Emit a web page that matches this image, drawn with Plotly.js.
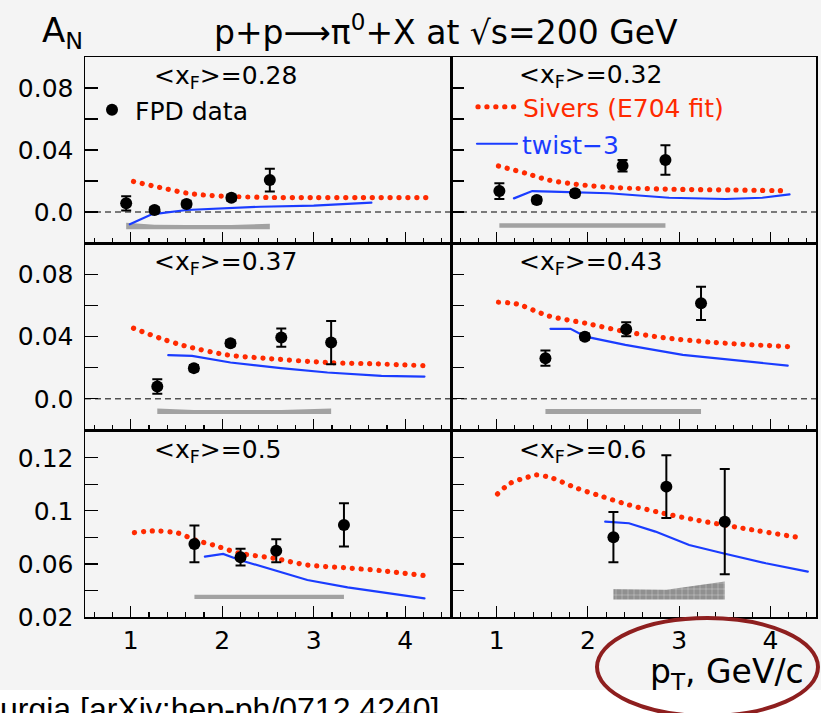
<!DOCTYPE html>
<html><head><meta charset="utf-8">
<script src="https://cdn.plot.ly/plotly-3.0.1.min.js"></script>
<style>
html,body{margin:0;padding:0;background:#f4f4f4;overflow:hidden;}
#chart{width:821px;height:713px;}
.js-line{stroke-linecap:round;}
</style></head><body><div id="chart"></div>
<script>
// ===== DATA =====
const xfLabels = ["0.28", "0.32", "0.37", "0.43", "0.5", "0.6"];
const xTickVals = [1, 2, 3, 4];
const xTickText = ["1", "2", "3", "4"];
const yTickValsTop = [0, 0.04, 0.08];
const yTickTextTop = ["0.0", "0.04", "0.08"];
const yMinorTop = [0.02, 0.06];
const yTickValsBot = [0.02, 0.06, 0.10, 0.14];
const yTickTextBot = ["0.02", "0.06", "0.1", "0.12"];
const yMinorBot = [0.04, 0.08, 0.12];

// panel 1 <xF>=0.28
const p1_pT  = [0.95, 1.26, 1.61, 2.10, 2.52];
const p1_AN  = [0.0056, 0.0013, 0.0052, 0.0092, 0.0206];
const p1_err = [0.0046, 0.002, 0.002, 0.002, 0.0073];
const p1_sivX = [1.03, 1.32, 1.61, 1.79, 2.10, 2.50, 3.00, 3.50, 4.25];
const p1_sivY = [0.0197, 0.0158, 0.0122, 0.0110, 0.0100, 0.0094, 0.0093, 0.0093, 0.0093];
const p1_twX = [0.99, 1.23, 1.61, 2.01, 2.42, 3.00, 3.63];
const p1_twY = [-0.0079, -0.0015, 0.0013, 0.0024, 0.0034, 0.0041, 0.0060];
const p1_sysX = [0.95, 1.26, 1.61, 2.10, 2.52];
const p1_sysLo = [-0.0112, -0.0112, -0.0112, -0.0112, -0.0112];
const p1_sysHi = [-0.0070, -0.0082, -0.0084, -0.0084, -0.0076];

// panel 2 <xF>=0.32
const p2_pT  = [1.03, 1.44, 1.86, 2.38, 2.85];
const p2_AN  = [0.0135, 0.0077, 0.0121, 0.0298, 0.0335];
const p2_err = [0.0051, 0.002, 0.002, 0.0037, 0.0095];
const p2_sivX = [1.02, 1.32, 1.57, 1.87, 2.30, 3.03, 3.60, 4.21];
const p2_sivY = [0.0297, 0.0250, 0.0206, 0.0179, 0.0157, 0.0146, 0.0142, 0.0137];
const p2_twX = [1.19, 1.39, 1.60, 1.90, 2.23, 2.89, 3.51, 3.91, 4.21];
const p2_twY = [0.0088, 0.0135, 0.0131, 0.0127, 0.0121, 0.0092, 0.0084, 0.0092, 0.0114];
const p2_sysX = [1.03, 1.44, 1.86, 2.38, 2.85];
const p2_sysLo = [-0.0102, -0.0102, -0.0102, -0.0102, -0.0102];
const p2_sysHi = [-0.0073, -0.0073, -0.0073, -0.0073, -0.0073];

// panel 3 <xF>=0.37
const p3_pT  = [1.29, 1.69, 2.09, 2.645, 3.19];
const p3_AN  = [0.0079, 0.0197, 0.0357, 0.0393, 0.0361];
const p3_err = [0.0047, 0.002, 0.002, 0.0058, 0.0139];
const p3_sivX = [1.03, 1.32, 1.59, 2.05, 2.45, 3.15, 3.70, 4.21];
const p3_sivY = [0.0453, 0.0389, 0.0340, 0.0282, 0.0261, 0.0233, 0.0224, 0.0213];
const p3_twX = [1.41, 1.67, 2.09, 2.64, 3.15, 3.74, 4.21];
const p3_twY = [0.0280, 0.0276, 0.0233, 0.0197, 0.0169, 0.0147, 0.0143];
const p3_sysX = [1.29, 1.69, 2.09, 2.645, 3.19];
const p3_sysLo = [-0.0098, -0.0098, -0.0098, -0.0098, -0.0098];
const p3_sysHi = [-0.0062, -0.0072, -0.0072, -0.0072, -0.0062];

// panel 4 <xF>=0.43
const p4_pT  = [1.535, 1.967, 2.42, 3.24];
const p4_AN  = [0.0261, 0.0399, 0.0447, 0.0613];
const p4_err = [0.0049, 0.002, 0.0045, 0.0107];
const p4_sivX = [1.02, 1.22, 1.57, 1.975, 2.41, 2.82, 3.40, 4.19];
const p4_sivY = [0.0620, 0.0609, 0.0532, 0.0485, 0.0431, 0.0393, 0.0361, 0.0335];
const p4_twX = [1.59, 1.81, 1.975, 2.41, 3.04, 3.77, 4.19];
const p4_twY = [0.0449, 0.0449, 0.0399, 0.0346, 0.0282, 0.0239, 0.0213];
const p4_sysX = [1.535, 1.967, 2.42, 3.24];
const p4_sysLo = [-0.0098, -0.0098, -0.0098, -0.0098];
const p4_sysHi = [-0.0066, -0.0066, -0.0066, -0.0066];

// panel 5 <xF>=0.5
const p5_pT  = [1.696, 2.20, 2.59, 3.33];
const p5_AN  = [0.0751, 0.0651, 0.0700, 0.0894];
const p5_err = [0.0138, 0.0063, 0.0087, 0.0163];
const p5_sivX = [1.04, 1.24, 1.52, 1.70, 1.90, 2.19, 2.56, 2.93, 3.33, 3.74, 4.21];
const p5_sivY = [0.0836, 0.0849, 0.0832, 0.0781, 0.0743, 0.0681, 0.0643, 0.0592, 0.0572, 0.0549, 0.0512];
const p5_twX = [1.81, 2.01, 2.19, 2.49, 2.93, 3.37, 3.81, 4.21];
const p5_twY = [0.0655, 0.0675, 0.0630, 0.0568, 0.0479, 0.0424, 0.0379, 0.0341];
const p5_sysX = [1.696, 2.20, 2.59, 3.33];
const p5_sysLo = [0.0335, 0.0335, 0.0335, 0.0335];
const p5_sysHi = [0.0367, 0.0367, 0.0367, 0.0367];

// panel 6 <xF>=0.6
const p6_pT  = [2.28, 2.86, 3.50];
const p6_AN  = [0.0802, 0.1183, 0.0919];
const p6_err = [0.0190, 0.0237, 0.0396];
const p6_sivX = [1.01, 1.15, 1.34, 1.43, 1.61, 1.88, 2.16, 2.45, 2.82, 3.18, 3.70, 4.36];
const p6_sivY = [0.1128, 0.1209, 0.1254, 0.1272, 0.1247, 0.1171, 0.1108, 0.1045, 0.0983, 0.0932, 0.0869, 0.0794];
const p6_twX = [2.19, 2.45, 2.74, 3.11, 3.48, 3.95, 4.41];
const p6_twY = [0.0919, 0.0907, 0.0844, 0.0743, 0.0681, 0.0605, 0.0542];
const p6_sysX = [2.28, 2.86, 3.50];
const p6_sysLo = [0.0332, 0.0332, 0.0332];
const p6_sysHi = [0.0412, 0.0405, 0.0468];

// ===== BUILD =====
const W = 821, H = 713;
const X = px => px / W;
const Y = px => 1 - px / H;
const FONT = "DejaVu Sans";
const RED = "#ff2a00", BLUE = "#1a3cff";

const panels = [
  [p1_pT, p1_AN, p1_err, p1_sivX, p1_sivY, p1_twX, p1_twY, p1_sysX, p1_sysLo, p1_sysHi],
  [p2_pT, p2_AN, p2_err, p2_sivX, p2_sivY, p2_twX, p2_twY, p2_sysX, p2_sysLo, p2_sysHi],
  [p3_pT, p3_AN, p3_err, p3_sivX, p3_sivY, p3_twX, p3_twY, p3_sysX, p3_sysLo, p3_sysHi],
  [p4_pT, p4_AN, p4_err, p4_sivX, p4_sivY, p4_twX, p4_twY, p4_sysX, p4_sysLo, p4_sysHi],
  [p5_pT, p5_AN, p5_err, p5_sivX, p5_sivY, p5_twX, p5_twY, p5_sysX, p5_sysLo, p5_sysHi],
  [p6_pT, p6_AN, p6_err, p6_sivX, p6_sivY, p6_twX, p6_twY, p6_sysX, p6_sysLo, p6_sysHi]
];

const colX = [[85, 451], [451, 816]];
const rowY = [[57, 243], [243, 430], [430, 617]];
const traces = [];
const layout = {
  width: W, height: H,
  margin: {l: 0, r: 0, t: 0, b: 0},
  paper_bgcolor: "#f4f4f4", plot_bgcolor: "#f4f4f4",
  font: {family: FONT, color: "black"},
  annotations: [], shapes: []
};

panels.forEach((p, i) => {
  const n = i + 1;
  const xa = n === 1 ? "x" : "x" + n;
  const ya = n === 1 ? "y" : "y" + n;
  const col = i % 2, row = Math.floor(i / 2);
  const [pT, AN, err, sivX, sivY, twX, twY, sysX, sysLo, sysHi] = p;

  // systematic band
  traces.push({
    x: sysX.concat(sysX.slice().reverse()),
    y: sysHi.concat(sysLo.slice().reverse()),
    xaxis: xa, yaxis: ya, mode: "lines", fill: "toself",
    fillcolor: n === 6 ? "#8a8a8a" : "#a2a2a2",
    fillpattern: n === 6 ? {shape: "+", fgcolor: "#e4e4e4", bgcolor: "#909090", size: 6, solidity: 0.12} : undefined,
    line: {width: 0}, showlegend: false, hoverinfo: "skip"
  });
  // Sivers
  traces.push({
    x: sivX, y: sivY, xaxis: xa, yaxis: ya, mode: "lines",
    name: "Sivers (E704 fit)",
    line: {color: RED, width: 5.2, dash: "0.1px,8.8px", shape: "spline", smoothing: 0.8},
    showlegend: n === 2, legend: "legend2"
  });
  // twist-3
  traces.push({
    x: twX, y: twY, xaxis: xa, yaxis: ya, mode: "lines",
    name: "twist\u22123",
    line: {color: BLUE, width: 2.2},
    showlegend: n === 2, legend: "legend3"
  });
  // data
  traces.push({
    x: pT, y: AN, xaxis: xa, yaxis: ya, mode: "markers",
    name: "FPD data",
    marker: {color: "black", size: 12},
    error_y: {type: "data", array: err, color: "black", thickness: 2, width: 5},
    showlegend: n === 1, legend: "legend"
  });

  const axKeyX = n === 1 ? "xaxis" : "xaxis" + n;
  const axKeyY = n === 1 ? "yaxis" : "yaxis" + n;
  layout[axKeyX] = {
    domain: [X(colX[col][0]), X(colX[col][1])],
    range: [0.5, 4.5], anchor: ya,
    showline: true, mirror: true, linecolor: "black", linewidth: 1.5,
    ticks: "inside", ticklen: 11, tickwidth: 1.2, tickcolor: "black",
    tickmode: "array", tickvals: xTickVals, ticktext: xTickText,
    showticklabels: row === 2,
    tickfont: {family: FONT, size: 25, color: "black"},
    minor: {ticks: "inside", ticklen: 5, tickmode: "linear", tick0: 0, dtick: 0.2, tickcolor: "black", tickwidth: 1.2},
    showgrid: false, zeroline: false, fixedrange: true
  };
  layout[axKeyY] = {
    domain: [Y(rowY[row][1]), Y(rowY[row][0])],
    range: row === 2 ? [0.02, 0.161] : [-0.02, 0.1], anchor: xa,
    showline: true, mirror: true, linecolor: "black", linewidth: 1.5,
    ticks: "inside", ticklen: 13, tickwidth: 1.2, tickcolor: "black",
    tickmode: "array",
    tickvals: row === 2 ? yTickValsBot : yTickValsTop,
    ticktext: row === 2 ? yTickTextBot : yTickTextTop,
    minor: {ticks: "inside", ticklen: 13, tickwidth: 1.2, tickcolor: "black", tickmode: "array",
      tickvals: row === 2 ? yMinorBot : yMinorTop},
    showticklabels: col === 0, ticklabelstandoff: 5,
    tickfont: {family: FONT, size: 25, color: "black"},
    showgrid: false, zeroline: false, fixedrange: true
  };

  if (row < 2) {
    layout.shapes.push({type: "line", xref: xa + " domain", x0: 0, x1: 1, yref: ya, y0: 0, y1: 0,
      line: {color: "black", width: 1, dash: "6px,4px"}, layer: "below"});
  }
  const labX = [225, 590, 225, 590, 217, 582][i];
  const labY = [77, 76, 263, 263, 451, 451][i];
  layout.annotations.push({
    xref: "paper", yref: "paper", x: X(labX), y: Y(labY), xanchor: "center", yanchor: "middle",
    text: "&lt;x<sub>F</sub>&gt;=" + xfLabels[i], showarrow: false,
    font: {family: FONT, size: 25, color: "black"}
  });
});

// legends
layout.legend = {x: X(89), y: Y(110), xanchor: "left", yanchor: "middle", bgcolor: "rgba(0,0,0,0)",
  font: {family: FONT, size: 25, color: "black"}, itemwidth: 36};
layout.legend2 = {x: X(473), y: Y(107), xanchor: "left", yanchor: "middle", bgcolor: "rgba(0,0,0,0)",
  font: {family: FONT, size: 25, color: RED}, itemwidth: 40};
layout.legend3 = {x: X(472), y: Y(144), xanchor: "left", yanchor: "middle", bgcolor: "rgba(0,0,0,0)",
  font: {family: FONT, size: 25, color: BLUE}, itemwidth: 40};

// titles
layout.annotations.push({xref: "paper", yref: "paper", x: X(40), y: Y(32), xanchor: "left", yanchor: "middle",
  text: "A<sub>N</sub>", showarrow: false, font: {family: FONT, size: 34, color: "black"}});
layout.annotations.push({xref: "paper", yref: "paper", x: X(446), y: Y(31), xanchor: "center", yanchor: "middle",
  text: "p+p\u27F6\u03C0<sup>0</sup>+X at \u221As=200 GeV", showarrow: false, font: {family: FONT, size: 33, color: "black"}});
layout.annotations.push({xref: "paper", yref: "paper", x: X(806), y: Y(673), xanchor: "right", yanchor: "middle",
  text: "p<sub>T</sub>, GeV/c", showarrow: false, font: {family: FONT, size: 33, color: "black"}});
layout.annotations.push({xref: "paper", yref: "paper", x: X(-2), y: Y(709), xanchor: "left", yanchor: "middle",
  text: "urgia [arXiv:hep-ph/0712.4240]", showarrow: false, font: {family: "Liberation Sans", size: 32, color: "black"}});

// white strip and highlight ellipse
layout.shapes.push({type: "rect", xref: "paper", yref: "paper", x0: 0, x1: 1, y0: Y(720), y1: Y(690),
  fillcolor: "white", line: {width: 0}, layer: "below"});
layout.shapes.push({type: "circle", xref: "paper", yref: "paper", x0: X(597), x1: X(818), y0: Y(716), y1: Y(618),
  line: {color: "#8e1f1f", width: 4}});

Plotly.newPlot("chart", traces, layout, {staticPlot: true});
</script></body></html>
